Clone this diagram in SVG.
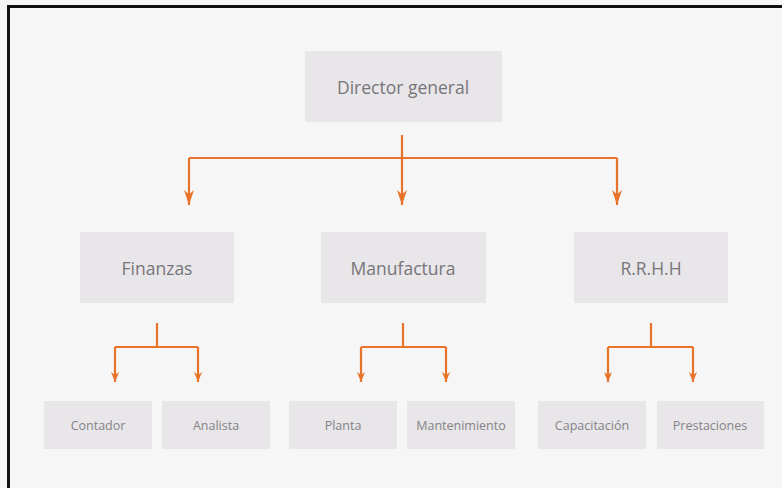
<svg xmlns="http://www.w3.org/2000/svg" width="782" height="488" viewBox="0 0 782 488">
  <defs>
    <style>
      .box { fill: #e8e6e8; }
      .t1 { font-family: "Open Sans", "Noto Sans", sans-serif; font-size: 17.5px; fill: #77757a; text-anchor: middle; dominant-baseline: central; }
      .t2 { font-family: "Open Sans", "Noto Sans", sans-serif; font-size: 12.5px; fill: #858388; text-anchor: middle; dominant-baseline: central; }
      .ln { stroke: #e8732a; stroke-width: 2.2; fill: none; }
    </style>
    <marker id="ah" viewBox="0 0 10 10" refX="10" refY="5" markerWidth="15" markerHeight="10" markerUnits="userSpaceOnUse" orient="auto" preserveAspectRatio="none">
      <path d="M0,0 L10,5 L0,10 L3,5 Z" fill="#e8732a"/>
    </marker>
    <marker id="ahs" viewBox="0 0 10 10" refX="10" refY="5" markerWidth="10" markerHeight="8" markerUnits="userSpaceOnUse" orient="auto" preserveAspectRatio="none">
      <path d="M0,0 L10,5 L0,10 L3,5 Z" fill="#e8732a"/>
    </marker>
  </defs>
  <rect x="0" y="0" width="782" height="488" fill="#f6f6f6"/>
  <path d="M8.5,488 V6.5 H782" stroke="#111" stroke-width="3" fill="none"/>

  <g id="connectors">
    <path class="ln" d="M402,135 V158"/>
    <path class="ln" d="M189,158 H617"/>
    <path class="ln" d="M189,158 V205" marker-end="url(#ah)"/>
    <path class="ln" d="M402,158 V205" marker-end="url(#ah)"/>
    <path class="ln" d="M617,158 V205" marker-end="url(#ah)"/>

    <path class="ln" d="M157,323 V347"/>
    <path class="ln" d="M115,347 H198"/>
    <path class="ln" d="M115,347 V382" marker-end="url(#ahs)"/>
    <path class="ln" d="M198,347 V382" marker-end="url(#ahs)"/>

    <path class="ln" d="M403,323 V347"/>
    <path class="ln" d="M361,347 H446"/>
    <path class="ln" d="M361,347 V382" marker-end="url(#ahs)"/>
    <path class="ln" d="M446,347 V382" marker-end="url(#ahs)"/>

    <path class="ln" d="M651,323 V347"/>
    <path class="ln" d="M608,347 H693"/>
    <path class="ln" d="M608,347 V382" marker-end="url(#ahs)"/>
    <path class="ln" d="M693,347 V382" marker-end="url(#ahs)"/>
  </g>

  <g id="director">
    <rect class="box" x="305" y="51" width="197" height="71"/>
    <text class="t1" x="403" y="87">Director general</text>
  </g>
  <g id="finanzas">
    <rect class="box" x="80" y="232" width="154" height="71"/>
    <text class="t1" x="157" y="268">Finanzas</text>
  </g>
  <g id="manufactura">
    <rect class="box" x="321" y="232" width="165" height="71"/>
    <text class="t1" x="403" y="268">Manufactura</text>
  </g>
  <g id="rrhh">
    <rect class="box" x="574" y="232" width="154" height="71"/>
    <text class="t1" x="651" y="268">R.R.H.H</text>
  </g>

  <g id="contador">
    <rect class="box" x="44" y="401" width="108" height="48"/>
    <text class="t2" x="98" y="425">Contador</text>
  </g>
  <g id="analista">
    <rect class="box" x="162" y="401" width="108" height="48"/>
    <text class="t2" x="216" y="425">Analista</text>
  </g>
  <g id="planta">
    <rect class="box" x="289" y="401" width="108" height="48"/>
    <text class="t2" x="343" y="425">Planta</text>
  </g>
  <g id="mantenimiento">
    <rect class="box" x="407" y="401" width="108" height="48"/>
    <text class="t2" x="461" y="425">Mantenimiento</text>
  </g>
  <g id="capacitacion">
    <rect class="box" x="538" y="401" width="108" height="48"/>
    <text class="t2" x="592" y="425">Capacitación</text>
  </g>
  <g id="prestaciones">
    <rect class="box" x="657" y="401" width="107" height="48"/>
    <text class="t2" x="710" y="425">Prestaciones</text>
  </g>
</svg>
